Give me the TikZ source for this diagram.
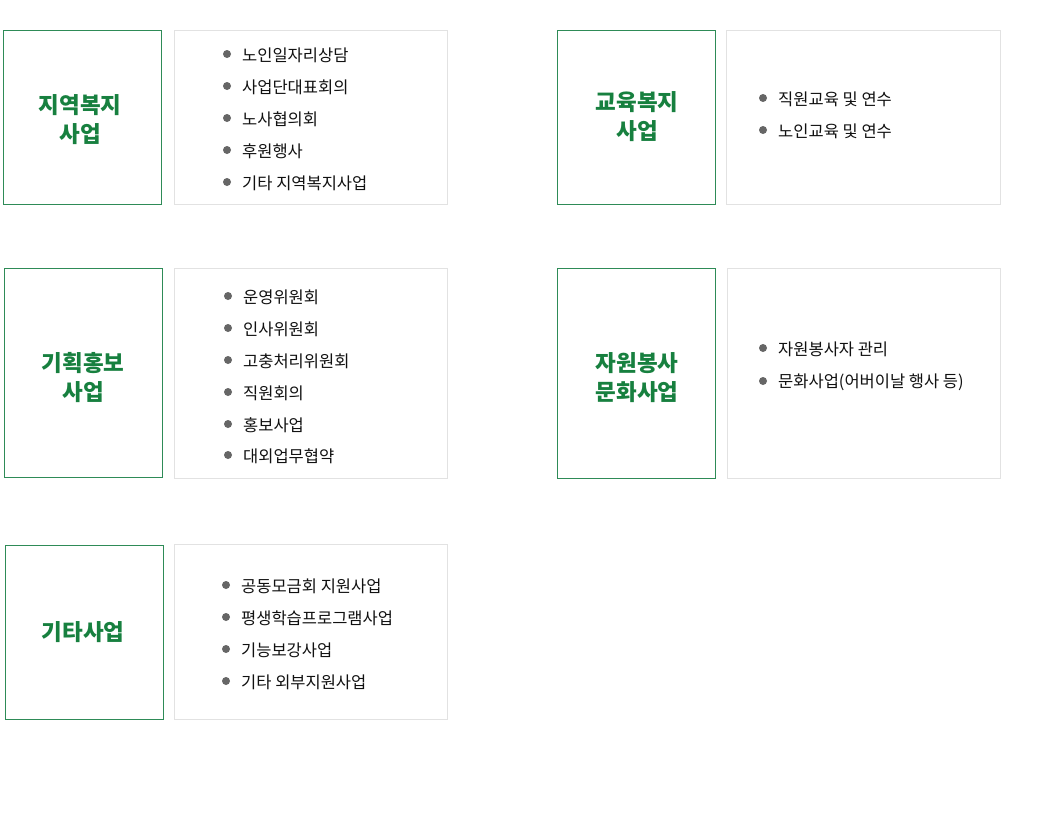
\documentclass[tikz,border=0pt]{standalone}
\usepackage{fontspec}
\setmainfont{Noto Sans CJK KR}
\definecolor{gborder}{HTML}{2E8B57}
\definecolor{gtext}{HTML}{17803F}
\definecolor{lborder}{HTML}{E2E2E2}
\definecolor{dot}{HTML}{666666}
\definecolor{itemtxt}{HTML}{111111}
\tikzset{
  catbox/.style={draw=gborder, line width=1pt, fill=white},
  listbox/.style={draw=lborder, line width=1pt, fill=white},
  cattitle/.style={text=gtext, font=\fontsize{22.5}{29}\selectfont\bfseries, align=center, inner sep=0pt},
  item/.style={anchor=west, text=itemtxt, font=\fontsize{16.5}{18}\selectfont, inner sep=0pt, yshift=-1pt},
  bul/.style={circle, fill=dot, minimum size=8pt, inner sep=0pt}
}
\begin{document}
\begin{tikzpicture}[x=1pt,y=-1pt]
\useasboundingbox (0,0) rectangle (1060,819);
% row 1 left
\draw[catbox] (3.5,30.5) rectangle (161.5,204.5);
\draw[listbox] (174.5,30.5) rectangle (447.5,204.5);
\node[cattitle] (t1) at (80,120) {지역복지\\사업};
\foreach \y/\t [count=\i] in {54/노인일자리상담,86/사업단대표회의,118/노사협의회,150/후원행사,182/기타 지역복지사업}{
  \node[bul] (a\i) at (227,\y) {};
  \node[item] (at\i) at (242,\y) {\t};
}
% row 1 right
\draw[catbox] (557.5,30.5) rectangle (715.5,204.5);
\draw[listbox] (726.5,30.5) rectangle (1000.5,204.5);
\node[cattitle] (t2) at (637,117) {교육복지\\사업};
\foreach \y/\t [count=\i] in {98/직원교육 및 연수,130/노인교육 및 연수}{
  \node[bul] (b\i) at (763,\y) {};
  \node[item] (bt\i) at (778,\y) {\t};
}
% row 2 left
\draw[catbox] (4.5,268.5) rectangle (162.5,477.5);
\draw[listbox] (174.5,268.5) rectangle (447.5,478.5);
\node[cattitle] (t3) at (83,378) {기획홍보\\사업};
\foreach \y/\t [count=\i] in {296/운영위원회,328/인사위원회,360/고충처리위원회,392/직원회의,424/홍보사업,455/대외업무협약}{
  \node[bul] (c\i) at (228,\y) {};
  \node[item] (ct\i) at (243,\y) {\t};
}
% row 2 right
\draw[catbox] (557.5,268.5) rectangle (715.5,478.5);
\draw[listbox] (727.5,268.5) rectangle (1000.5,478.5);
\node[cattitle] (t4) at (637,378) {자원봉사\\문화사업};
\foreach \y/\t [count=\i] in {348/자원봉사자 관리,381/문화사업(어버이날 행사 등)}{
  \node[bul] (d\i) at (763,\y) {};
  \node[item] (dt\i) at (778,\y) {\t};
}
% row 3 left
\draw[catbox] (5.5,545.5) rectangle (163.5,719.5);
\draw[listbox] (174.5,544.5) rectangle (447.5,719.5);
\node[cattitle] (t5) at (83,632) {기타사업};
\foreach \y/\t [count=\i] in {585/공동모금회 지원사업,617/평생학습프로그램사업,649/기능보강사업,681/기타 외부지원사업}{
  \node[bul] (e\i) at (226,\y) {};
  \node[item] (et\i) at (241,\y) {\t};
}
\end{tikzpicture}
\end{document}
